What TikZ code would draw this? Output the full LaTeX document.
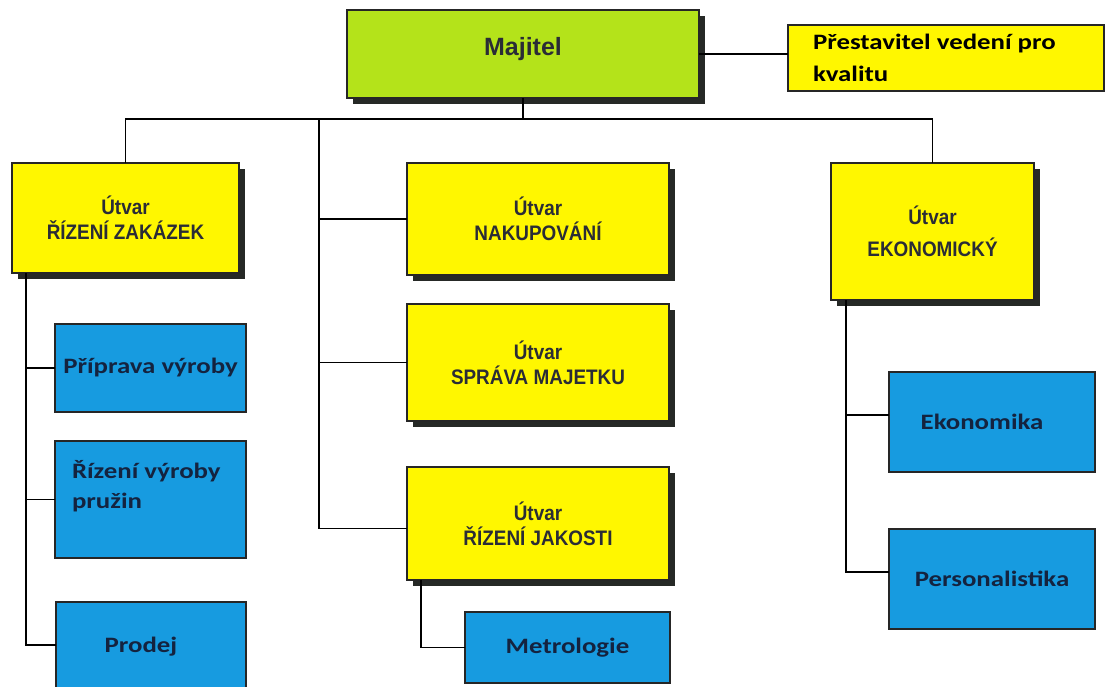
\documentclass[tikz,border=0pt]{standalone}
\usepackage{fontspec}
\setmainfont{Liberation Sans}
\newfontfamily\unitfont{Liberation Sans}[FakeStretch=0.9]
\newfontfamily\teamfont{Carlito}[FakeStretch=1.22]
\usetikzlibrary{shadows}

\definecolor{ownergreen}{HTML}{B4E31A}
\definecolor{unityellow}{HTML}{FFF700}
\definecolor{teamblue}{HTML}{179BE0}
\definecolor{shadowgray}{HTML}{262926}
\definecolor{edgegray}{HTML}{262626}
\definecolor{unitink}{HTML}{2A2C36}
\definecolor{teamink}{HTML}{14233F}

\tikzset{
  boxbase/.style={draw=edgegray, line width=1.3pt, inner sep=0pt, outer sep=0pt},
  shadowed/.style={drop shadow={shadow xshift=6pt, shadow yshift=-6pt,
      fill=shadowgray, opacity=1}},
  ownerbox/.style={boxbase, shadowed, fill=ownergreen, text=unitink,
      font=\bfseries\fontsize{25}{30}\selectfont},
  unitbox/.style={boxbase, shadowed, fill=unityellow, text=unitink, align=center,
      font=\unitfont\bfseries\fontsize{21}{25}\selectfont},
  qualitybox/.style={boxbase, fill=unityellow, text=black,
      font=\teamfont\bfseries\fontsize{22}{32}\selectfont},
  teambox/.style={boxbase, fill=teamblue, text=teamink,
      font=\teamfont\bfseries\fontsize{22}{30}\selectfont},
  link/.style={draw=black, line width=1.4pt},
}

\begin{document}
\begin{tikzpicture}[x=1pt, y=-1pt]
\useasboundingbox (0,0) rectangle (1105,686);
\clip (0,0) rectangle (1105,686);
\fill[white] (0,0) rectangle (1105,686);

% top level
\node[ownerbox, minimum width=352pt, minimum height=88pt,
      text height=18pt, text depth=16pt] (maj) at (523,54) {Majitel};
\node[qualitybox, minimum width=316pt, minimum height=66pt] (rep) at (946,58)
  {\parbox[c][62.8pt][t]{266pt}{\strut Přestavitel vedení pro\\kvalitu}};

% departments
\node[unitbox, minimum width=227pt, minimum height=110pt] (rz) at (125.5,218)
  {Útvar\\ŘÍZENÍ ZAKÁZEK};
\node[unitbox, minimum width=262pt, minimum height=112pt] (nak) at (538,219)
  {Útvar\\NAKUPOVÁNÍ};
\node[unitbox, minimum width=262pt, minimum height=117pt] (spr) at (538,362.5)
  {Útvar\\SPRÁVA MAJETKU};
\node[unitbox, minimum width=262pt, minimum height=113pt] (jak) at (538,523.5)
  {Útvar\\ŘÍZENÍ JAKOSTI};
\node[unitbox, minimum width=203pt, minimum height=137pt] (eko) at (932.5,231.5)
  {Útvar\\[7pt]EKONOMICKÝ};

% teams
\node[teambox, minimum width=191pt, minimum height=88pt] (pri) at (150.5,368)
  {Příprava výroby};
\node[teambox, minimum width=191pt, minimum height=117pt] (riz) at (150.5,499.5)
  {\parbox[c][85pt][t]{157pt}{\strut Řízení výroby\\pružin}};
\node[teambox, minimum width=190pt, minimum height=90pt] (pro) at (151,647)
  {Prodej\hspace*{20pt}};
\node[teambox, minimum width=205pt, minimum height=71pt] (met) at (567.5,647.5)
  {Metrologie};
\node[teambox, minimum width=206pt, minimum height=100pt] (ekm) at (992,422)
  {Ekonomika\hspace*{20pt}};
\node[teambox, minimum width=206pt, minimum height=100pt] (per) at (992,579)
  {Personalistika};

% connectors
\coordinate (bus) at (0,119);
\coordinate (mid) at (319,119);
\draw[link] (maj.east) -- (maj.east -| rep.west);
\draw[link] (rz.north) -- (rz.north |- bus) -- (eko.north |- bus) -- (eko.north);
\draw[link] (maj.south) -- (maj.south |- bus);
\coordinate (jakin) at ([yshift=-5pt]jak.west);
\draw[link] (mid) |- (jakin);
\draw[link] (mid |- nak.west) -- (nak.west);
\draw[link] (mid |- spr.west) -- (spr.west);

\coordinate (rzt) at ([xshift=14pt]rz.south west);
\coordinate (proin) at ([yshift=2pt]pro.west);
\draw[link] (rzt) |- (proin);
\draw[link] (rzt |- pri.west) -- (pri.west);
\draw[link] (rzt |- riz.west) -- (riz.west);

\coordinate (jkt) at ([xshift=14pt]jak.south west);
\draw[link] (jkt) |- (met.west);

\coordinate (ekt) at ([xshift=15pt]eko.south west);
\coordinate (ekmin) at ([yshift=7pt]ekm.west);
\coordinate (perin) at ([yshift=7pt]per.west);
\draw[link] (ekt) |- (perin);
\draw[link] (ekt |- ekmin) -- (ekmin);
\end{tikzpicture}
\end{document}
